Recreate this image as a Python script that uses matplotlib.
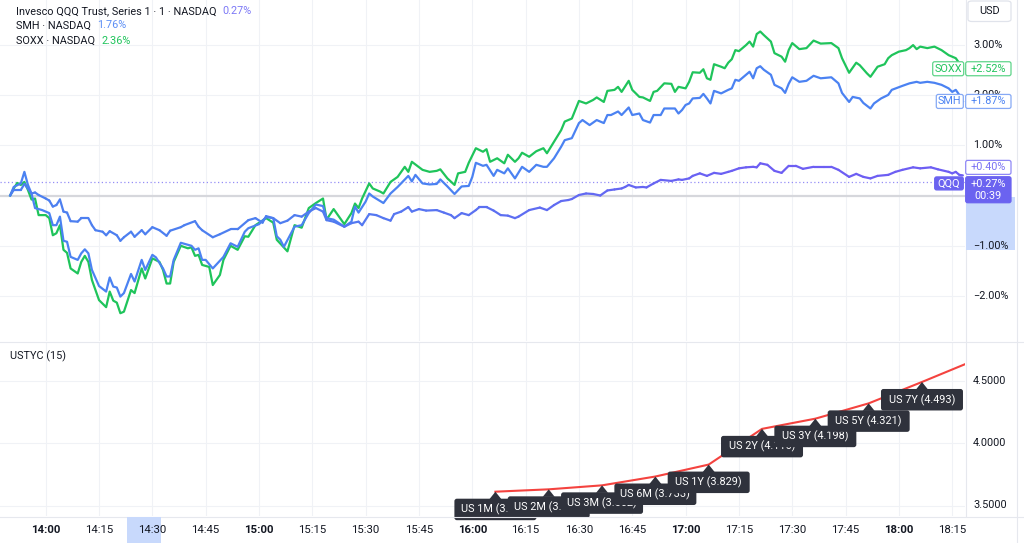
import matplotlib
matplotlib.use("Agg")
import matplotlib.pyplot as plt
import matplotlib.transforms as mtransforms
from matplotlib.patches import FancyBboxPatch, Polygon, Rectangle
from matplotlib.collections import LineCollection
from matplotlib.lines import Line2D
import matplotlib.colors as mcolors
import numpy as np

plt.rcParams['font.family'] = ['Roboto', 'DejaVu Sans']

# ---------------- data (minutes after 14:00, % change) ----------------
qqq_min = [-10, -9, -7, -6, -4, -3, -2, 0, 1, 2, 3, 4, 5, 6, 7, 9, 10, 12, 13, 14, 16, 17, 18, 20, 21, 22,
           24, 25, 27, 28, 30, 32, 34, 35, 38, 39, 42, 43, 44, 47, 49, 52, 54, 57, 59, 61, 62, 64, 66, 68,
           70, 72, 74, 76, 78, 79, 81, 84, 86, 88, 89, 91, 93, 95, 97, 98, 100, 102, 103, 105, 107, 110,
           112, 114, 115, 117, 119, 121, 122, 124, 126, 128, 130, 132, 133, 136, 139, 141, 143, 145, 147,
           148, 150, 152, 154, 156, 158, 160, 162, 163, 164, 166, 168, 169, 171, 173, 176, 178, 179, 181,
           182, 184, 186, 188, 190, 192, 193, 195, 197, 199, 200, 201, 203, 205, 207, 209, 211, 213, 216,
           219, 221, 223, 226, 228, 230, 232, 234, 237, 239, 241, 244, 246, 249, 251, 254, 255, 256, 257, 258]
qqq_pct = [0.00, 0.11, 0.11, 0.23, 0.04, 0.06, 0.01, -0.06, -0.10, -0.22, -0.19, -0.08, -0.32, -0.34, -0.51,
           -0.52, -0.45, -0.45, -0.59, -0.69, -0.72, -0.79, -0.71, -0.79, -0.90, -0.83, -0.72, -0.82, -0.69,
           -0.77, -0.63, -0.69, -0.80, -0.70, -0.63, -0.59, -0.51, -0.62, -0.69, -0.83, -0.77, -0.67, -0.67,
           -0.49, -0.45, -0.54, -0.41, -0.45, -0.55, -0.50, -0.39, -0.42, -0.32, -0.25, -0.32, -0.49, -0.52,
           -0.62, -0.55, -0.52, -0.59, -0.37, -0.39, -0.45, -0.50, -0.37, -0.32, -0.23, -0.32, -0.27, -0.30,
           -0.29, -0.34, -0.39, -0.45, -0.35, -0.39, -0.29, -0.23, -0.23, -0.30, -0.39, -0.40, -0.45, -0.42,
           -0.29, -0.24, -0.29, -0.19, -0.11, -0.09, -0.07, 0.01, 0.04, 0.03, 0.00, 0.10, 0.12, 0.14, 0.17,
           0.21, 0.16, 0.17, 0.16, 0.24, 0.31, 0.29, 0.32, 0.31, 0.34, 0.39, 0.44, 0.39, 0.45, 0.43, 0.47,
           0.49, 0.54, 0.56, 0.57, 0.56, 0.64, 0.61, 0.49, 0.45, 0.59, 0.59, 0.53, 0.57, 0.57, 0.57, 0.51,
           0.37, 0.43, 0.37, 0.34, 0.39, 0.41, 0.47, 0.51, 0.56, 0.54, 0.56, 0.52, 0.47, 0.44, 0.47, 0.41, 0.40]

smh_min = [-10, -9, -7, -6, -5, -4, -3, -1, 1, 2, 3, 4, 5, 6, 7, 9, 10, 11, 12, 13, 15, 17, 18, 19, 20, 21,
           22, 24, 25, 27, 28, 30, 31, 33, 34, 35, 36, 38, 40, 41, 42, 43, 44, 45, 47, 50, 52, 54, 56, 57,
           60, 62, 64, 65, 66, 67, 70, 72, 74, 76, 78, 79, 81, 84, 86, 87, 88, 90, 91, 92, 95, 97, 99, 102,
           103, 104, 106, 108, 110, 111, 113, 115, 117, 119, 120, 121, 123, 124, 126, 127, 129, 130, 132,
           134, 136, 138, 140, 141, 143, 145, 146, 148, 150, 151, 153, 154, 155, 157, 158, 159, 161, 162,
           164, 165, 167, 168, 170, 171, 173, 174, 177, 178, 179, 180, 181, 182, 184, 185, 186, 187, 188,
           190, 192, 193, 194, 195, 197, 198, 199, 200, 201, 202, 204, 205, 207, 208, 209, 210, 212, 214,
           216, 218, 221, 223, 224, 226, 227, 229, 230, 232, 233, 235, 237, 238, 241, 243, 245, 246, 248,
           250, 252, 254, 255, 256, 257, 258]
smh_pct = [0.00, 0.17, 0.24, 0.47, 0.21, 0.04, -0.25, -0.29, -0.35, -0.59, -0.59, -0.42, -0.90, -0.92, -1.22,
           -1.28, -1.15, -1.07, -1.15, -1.48, -1.80, -1.91, -1.63, -1.81, -1.83, -2.01, -1.94, -1.56, -1.71,
           -1.28, -1.48, -1.18, -1.23, -1.45, -1.61, -1.61, -1.28, -0.94, -0.98, -1.00, -1.08, -1.05, -1.28,
           -1.28, -1.45, -1.22, -0.95, -1.02, -0.72, -0.65, -0.57, -0.43, -0.45, -0.81, -0.88, -1.02, -0.62,
           -0.59, -0.35, -0.18, -0.21, -0.45, -0.48, -0.62, -0.52, -0.22, -0.34, -0.12, 0.04, -0.02, -0.15,
           0.04, 0.17, 0.39, 0.28, 0.41, 0.24, 0.22, 0.23, 0.32, 0.18, 0.03, 0.18, 0.19, 0.37, 0.65, 0.59,
           0.61, 0.39, 0.51, 0.44, 0.54, 0.34, 0.57, 0.47, 0.61, 0.57, 0.57, 0.74, 0.97, 1.10, 1.14, 1.44,
           1.50, 1.40, 1.45, 1.50, 1.44, 1.60, 1.60, 1.67, 1.60, 1.75, 1.60, 1.63, 1.50, 1.45, 1.60, 1.60,
           1.73, 1.73, 1.63, 1.70, 1.80, 1.83, 1.93, 1.94, 2.02, 1.93, 1.83, 2.08, 2.03, 2.10, 2.13, 2.30,
           2.28, 2.40, 2.46, 2.33, 2.53, 2.57, 2.50, 2.40, 2.20, 2.13, 2.04, 2.22, 2.35, 2.26, 2.28, 2.38,
           2.33, 2.35, 2.23, 2.04, 1.86, 1.96, 1.93, 1.84, 1.73, 1.83, 1.93, 2.00, 2.10, 2.18, 2.23, 2.26,
           2.24, 2.26, 2.24, 2.20, 2.13, 2.06, 2.10, 2.00, 1.87]

soxx_min = [-10, -9, -8, -7, -6, -5, -4, -3, -2, 0, 1, 2, 3, 4, 5, 6, 7, 9, 10, 11, 12, 13, 15, 17, 18, 19,
            20, 21, 22, 24, 25, 27, 28, 30, 32, 33, 34, 35, 36, 38, 40, 41, 42, 43, 44, 46, 47, 49, 50, 52,
            54, 56, 57, 59, 62, 64, 65, 68, 70, 72, 74, 76, 78, 79, 81, 84, 86, 87, 88, 89, 91, 92, 94, 95,
            97, 99, 101, 102, 103, 106, 108, 110, 111, 113, 115, 116, 118, 119, 121, 123, 124, 125, 127,
            129, 130, 132, 133, 134, 136, 138, 140, 141, 143, 145, 146, 148, 150, 152, 154, 155, 157, 158,
            160, 161, 162, 164, 165, 167, 168, 170, 171, 172, 174, 176, 177, 178, 180, 181, 182, 184, 185,
            186, 187, 188, 190, 191, 192, 193, 194, 195, 197, 198, 199, 200, 201, 202, 204, 205, 207, 208,
            209, 210, 212, 214, 216, 218, 221, 223, 224, 226, 228, 229, 231, 232, 234, 236, 237, 238, 240,
            242, 243, 244, 245, 246, 248, 250, 252, 254, 256, 257, 258]
soxx_pct = [0.00, 0.14, 0.25, 0.21, 0.27, 0.11, -0.08, -0.06, -0.39, -0.39, -0.45, -0.79, -0.75, -0.59,
            -1.08, -1.14, -1.45, -1.55, -1.32, -1.20, -1.32, -1.68, -2.08, -2.22, -1.91, -2.09, -2.13, -2.34,
            -2.31, -1.88, -1.94, -1.45, -1.65, -1.25, -1.32, -1.48, -1.75, -1.75, -1.32, -1.00, -1.05, -1.03,
            -1.20, -1.18, -1.38, -1.42, -1.78, -1.58, -1.28, -1.00, -1.08, -0.81, -0.82, -0.59, -0.45, -0.54,
            -0.88, -1.11, -0.59, -0.64, -0.25, -0.15, -0.06, -0.48, -0.27, -0.57, -0.35, -0.16, -0.25, -0.06,
            0.24, 0.14, 0.08, 0.04, 0.27, 0.37, 0.57, 0.47, 0.67, 0.51, 0.47, 0.49, 0.52, 0.34, 0.21, 0.44,
            0.47, 0.65, 0.94, 0.87, 0.92, 0.67, 0.74, 0.64, 0.81, 0.67, 0.74, 0.85, 0.77, 0.88, 0.94, 0.84,
            1.07, 1.30, 1.47, 1.53, 1.88, 1.83, 1.90, 1.95, 1.86, 2.08, 2.10, 2.16, 2.06, 2.28, 2.10, 1.96,
            1.95, 1.88, 2.06, 2.08, 2.23, 2.22, 2.06, 2.16, 2.13, 2.26, 2.45, 2.44, 2.51, 2.33, 2.30, 2.61,
            2.56, 2.53, 2.64, 2.71, 2.89, 2.87, 2.99, 3.06, 2.96, 3.21, 3.26, 3.19, 3.06, 2.83, 2.76, 2.66,
            2.89, 3.03, 2.91, 2.93, 3.08, 3.02, 3.03, 2.93, 2.73, 2.44, 2.64, 2.59, 2.43, 2.36, 2.56, 2.61,
            2.73, 2.79, 2.86, 2.89, 2.93, 2.99, 2.91, 2.96, 2.93, 2.96, 2.89, 2.79, 2.73, 2.63, 2.52]

tick_min = [0, 15, 30, 45, 60, 75, 90, 105, 120, 135, 150, 165, 180, 195, 210, 225, 240, 255]
tick_labels = ['14:00', '14:15', '14:30', '14:45', '15:00', '15:15', '15:30', '15:45', '16:00',
               '16:15', '16:30', '16:45', '17:00', '17:15', '17:30', '17:45', '18:00', '18:15']
bold_labels = ['14:00', '15:00', '16:00', '17:00', '18:00']

pct_ticks = [3, 2, 1, -1, -2]
pct_tick_labels = ['3.00%', '2.00%', '1.00%', '\u22121.00%', '\u22122.00%']

tenors = ['US 1M', 'US 2M', 'US 3M', 'US 6M', 'US 1Y', 'US 2Y', 'US 3Y', 'US 5Y', 'US 7Y', 'US 10Y']
yields = [3.611, 3.630, 3.662, 3.733, 3.829, 4.116, 4.198, 4.321, 4.493, 4.670]
yield_min = [126.5, 141.5, 156.5, 171.5, 186.5, 201.5, 216.5, 231.5, 246.5, 261.5]
yc_ticks = [4.5, 4.0, 3.5]
yc_tick_labels = ['4.5000', '4.0000', '3.5000']

legend_names = ['Invesco QQQ Trust, Series 1 \u00b7 1 \u00b7 NASDAQ', 'SMH \u00b7 NASDAQ', 'SOXX \u00b7 NASDAQ']
legend_values = [0.27, 1.76, 2.36]

qqq_last, smh_last, soxx_last = 0.40, 1.87, 2.52
qqq_day = 0.27

# ---------------- style ----------------
W, H = 1024, 543
C_SOXX = '#1fc45b'
C_SMH = '#4b82f2'
C_QQQ_L = '#4d7ff0'
C_QQQ_R = '#6d5ef3'
C_QQQ_TAG = '#6b63f0'
C_GRID = '#f0f2f6'
C_TXT = '#131722'
C_BOX = '#2f323c'
C_RED = '#f4433f'
FS = 7.8


def fx(px):
    return px / W


def fy(py):
    return 1 - py / H


fig = plt.figure(figsize=(W / 100, H / 100), dpi=100)
fig.patch.set_facecolor('white')

XL = (-12.86, 258.6)
ax1 = fig.add_axes([0, fy(341), 965 / W, 341 / H])
ax2 = fig.add_axes([0, fy(516), 965 / W, (516 - 342) / H])
for ax in (ax1, ax2):
    ax.axis('off')
    ax.set_xlim(*XL)
ax1.set_ylim((195.5 - 341) / 50.3, 195.5 / 50.3)
ax2.set_ylim(4.0 - (516 - 443.3) / 124.4, 4.0 + (443.3 - 342) / 124.4)

# grids
for m in tick_min:
    ax1.axvline(m, color=C_GRID, lw=0.8, zorder=0)
    ax2.axvline(m, color=C_GRID, lw=0.8, zorder=0)
for v in pct_ticks:
    ax1.axhline(v, color=C_GRID, lw=0.8, zorder=0)
for v in yc_ticks:
    ax2.axhline(v, color=C_GRID, lw=0.8, zorder=0)
ax1.axhline(0, color='#d6d7dc', lw=1.6, zorder=1)
ax1.axhline(qqq_day, color='#958ef6', lw=0.9, ls=(0, (1, 2)), zorder=1)

# separators
for (x0, y0, x1, y1) in [(0, 341.5, 1024, 341.5), (0, 516.5, 1024, 516.5), (965.5, 0, 965.5, 516),
                         (1016.5, 0, 1016.5, 543)]:
    fig.add_artist(Line2D([fx(x0), fx(x1)], [fy(y0), fy(y1)], color='#e6e8ee', lw=0.8,
                          transform=fig.transFigure, zorder=1))

# series
ax1.plot(soxx_min, soxx_pct, color=C_SOXX, lw=1.6, zorder=3, solid_joinstyle='round')
ax1.plot(smh_min, smh_pct, color=C_SMH, lw=1.6, zorder=4, solid_joinstyle='round')
qx = np.array(qqq_min, float)
qy = np.array(qqq_pct, float)
segs = np.stack([np.column_stack([qx[:-1], qy[:-1]]), np.column_stack([qx[1:], qy[1:]])], axis=1)
mid = (qx[:-1] + qx[1:]) / 2
frac = np.clip((mid - 60) / 140, 0, 1)
c0 = np.array(mcolors.to_rgb(C_QQQ_L))
c1 = np.array(mcolors.to_rgb(C_QQQ_R))
cols = c0[None, :] * (1 - frac[:, None]) + c1[None, :] * frac[:, None]
lc = LineCollection(segs, colors=cols, linewidths=1.6, zorder=5, capstyle='round', joinstyle='round')
ax1.add_collection(lc)

# yield curve
ax2.plot(yield_min, yields, color=C_RED, lw=1.5, zorder=5)
for i, (t, v, name) in enumerate(zip(yield_min, yields, tenors)):
    if t > XL[1]:
        continue
    z = 10 + 3 * i
    base = fig.dpi_scale_trans + mtransforms.ScaledTranslation(t, v, ax2.transData)
    tri = Polygon([(0, 0), (-0.06, -0.075), (0.06, -0.075)], closed=True, transform=base,
                  fc=C_BOX, ec='none', zorder=z, clip_on=False)
    box = FancyBboxPatch((-0.41, -0.285), 0.82, 0.215, boxstyle='round,pad=0,rounding_size=0.025',
                         transform=base, fc=C_BOX, ec='none', zorder=z, clip_on=False)
    ax2.add_patch(tri)
    ax2.add_patch(box)
    ax2.text(0.0, -0.178, f'{name} ({v:.3f})', transform=base, ha='center', va='center',
             color='white', fontsize=7.8, zorder=z + 1, clip_on=False)
ax2.set_xlim(*XL)

# time axis labels
tb = mtransforms.blended_transform_factory(ax2.transData, fig.transFigure)
fig.add_artist(Rectangle((fx(127), fy(543)), 34 / W, 26 / H, transform=fig.transFigure,
                         fc='#c8d9fc', ec='none', zorder=2))
for m, lab in zip(tick_min, tick_labels):
    fig.text(m, fy(530), lab, transform=tb, ha='center', va='center', fontsize=8.2, color=C_TXT,
             fontweight='bold' if lab in bold_labels else 'normal', zorder=4)

# right price axis
fig.add_artist(Rectangle((fx(966), fy(250)), 49 / W, 53 / H, transform=fig.transFigure,
                         fc='#c8d9fc', ec='none', zorder=2))
rb1 = mtransforms.blended_transform_factory(fig.transFigure, ax1.transData)
for v, lab in zip(pct_ticks, pct_tick_labels):
    fig.text(fx(973), v, lab, transform=rb1, ha='left', va='center', fontsize=FS, color=C_TXT, zorder=4)
rb2 = mtransforms.blended_transform_factory(fig.transFigure, ax2.transData)
for v, lab in zip(yc_ticks, yc_tick_labels):
    fig.text(fx(973), v, lab, transform=rb2, ha='left', va='center', fontsize=FS, color=C_TXT, zorder=4)


def tag(value, x_left, x_right, text, fc, ec, tc, h=14, yoff=0.0, z=6, fs=FS):
    base = fig.dpi_scale_trans + mtransforms.ScaledTranslation(fx(x_left), value, rb1)
    w = (x_right - x_left) / 100
    patch = FancyBboxPatch((0, -yoff / 100 - h / 200), w, h / 100,
                           boxstyle='round,pad=0,rounding_size=0.02', transform=base,
                           fc=fc, ec=ec, lw=0.9, zorder=z)
    fig.add_artist(patch)
    fig.text(w / 2, -yoff / 100, text, transform=base, ha='center', va='center', fontsize=fs,
             color=tc, zorder=z + 0.5, linespacing=1.2)


tag(soxx_last, 932.7, 963.7, 'SOXX', 'white', '#5fd48a', C_SOXX)
tag(soxx_last, 965.7, 1011, f'+{soxx_last:.2f}%', 'white', '#5fd48a', C_SOXX)
tag(smh_last, 936.3, 963.3, 'SMH', 'white', '#86a9f5', C_SMH)
tag(smh_last, 965.7, 1011, f'+{smh_last:.2f}%', 'white', '#86a9f5', C_SMH)
tag(qqq_last, 965.7, 1011, f'+{qqq_last:.2f}%', 'white', '#8f88f6', '#7a72f4', yoff=-8)
tag(qqq_day, 934.7, 963.3, 'QQQ', C_QQQ_TAG, C_QQQ_TAG, 'white', h=13, yoff=1.5)
tag(qqq_day, 965.7, 1011, f'+{qqq_day:.2f}%\n00:39', C_QQQ_TAG, C_QQQ_TAG, 'white', h=26, yoff=7.8, z=7)

# USD button
fig.add_artist(FancyBboxPatch((fx(968), fy(21.5)), 43 / W, 20.5 / H,
                              boxstyle='round,pad=0,rounding_size=0.004', transform=fig.transFigure,
                              fc='white', ec='#e0e3eb', lw=0.9, zorder=4))
fig.text(fx(989.5), fy(11.5), 'USD', ha='center', va='center', fontsize=FS, color=C_TXT, zorder=5)

# legend
legend_colors = ['#7c78f6', '#5b8ef5', C_SOXX]
for row, (name, val, col) in enumerate(zip(legend_names, legend_values, legend_colors)):
    ypx = [11, 25.5, 41][row]
    t = fig.text(fx(16), fy(ypx), name, ha='left', va='center', fontsize=FS, color=C_TXT, zorder=5)
    ax1.annotate(f'{val:.2f}%', xy=(1, 0.5), xycoords=t, xytext=(4.5, 0), textcoords='offset points',
                 ha='left', va='center', fontsize=FS, color=col, zorder=6, annotation_clip=False)

fig.text(fx(10), fy(356), 'USTYC (15)', ha='left', va='center', fontsize=FS, color=C_TXT, zorder=5)

fig.savefig('out.png', dpi=100, facecolor='white')
